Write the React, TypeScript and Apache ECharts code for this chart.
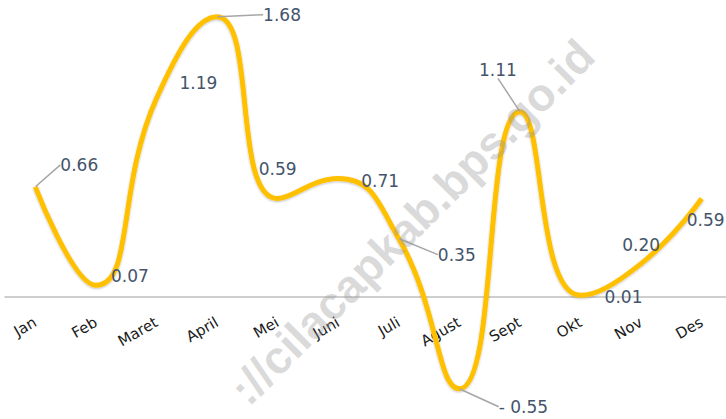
import React, { useEffect, useRef } from "react";
import * as echarts from "echarts";

const categories = ["Jan", "Feb", "Maret", "April", "Mei", "Juni", "Juli", "Agust", "Sept", "Okt", "Nov", "Des"];
const values = [0.66, 0.07, 1.19, 1.68, 0.59, 0.71, 0.35, -0.55, 1.11, 0.01, 0.2, 0.59];

// label placement (styling only): offset of each label centre from its point, and whether a leader line is drawn
const labelOffsets: [number, number][] = [
  [44, -22], [34, -9], [42, -15], [65, -2], [0, -30], [42, 2],
  [58, 16], [64, 18], [-22, -42], [43, 2], [0, -19], [4, 21],
];
const leaders = [true, false, false, true, false, false, true, true, true, false, false, false];

const fmt = (v: number) => (v < 0 ? "- " + Math.abs(v).toFixed(2) : v.toFixed(2));

export default function App() {
  const ref = useRef<HTMLDivElement>(null);
  useEffect(() => {
    if (!ref.current) return;
    const chart = echarts.init(ref.current, null, { renderer: "svg" });
    chart.setOption({
      animation: false,
      backgroundColor: "#ffffff",
      grid: { left: 5, top: 0, width: 727, height: 297, containLabel: false, outerBoundsMode: "none" },
      xAxis: {
        type: "category",
        data: categories,
        boundaryGap: true,
        axisLine: { lineStyle: { color: "#BFBFBF", width: 1.5 } },
        axisTick: { show: false },
        axisLabel: {
          interval: 0,
          rotate: 30,
          margin: 24,
          fontSize: 15,
          fontFamily: "DejaVu Sans",
          color: "#1a1a1a",
        },
        splitLine: { show: false },
      },
      yAxis: {
        type: "value",
        min: 0,
        max: 1.78,
        show: false,
        splitLine: { show: false },
      },
      series: [
        {
          type: "line",
          clip: false,
          smooth: 0.5,
          symbol: "circle",
          symbolSize: 1,
          showSymbol: true,
          itemStyle: { color: "rgba(0,0,0,0)" },
          lineStyle: {
            color: "#FFC000",
            width: 5,
            shadowColor: "rgba(0,0,0,0.25)",
            shadowBlur: 2,
            shadowOffsetY: 1,
          },
          label: {
            show: true,
            position: "inside",
            fontSize: 17,
            fontFamily: "DejaVu Sans",
            color: "#44546A",
            formatter: (p: any) => fmt(p.value),
          },
          labelLine: { show: true, lineStyle: { color: "#A6A6A6", width: 1.5 } },
          labelLayout: (p: any) => ({ dx: labelOffsets[p.dataIndex][0], dy: labelOffsets[p.dataIndex][1] }),
          data: values.map((v, i) => ({
            value: v,
            labelLine: { show: leaders[i] },
          })),
        },
      ],
      graphic: [
        {
          type: "text",
          x: 412,
          y: 222,
          rotation: Math.PI / 4,
          z: 100,
          silent: true,
          style: {
            text: "://cilacapkab.bps.go.id",
            fontSize: 46,
            fontWeight: "bold",
            fontFamily: "Liberation Sans",
            fill: "rgba(150,150,150,0.35)",
            textAlign: "center",
            textVerticalAlign: "middle",
          },
        },
      ],
    });
    return () => chart.dispose();
  }, []);
  return <div ref={ref} style={{ width: 726, height: 419, position: "absolute", left: 0, top: 0 }} />;
}
